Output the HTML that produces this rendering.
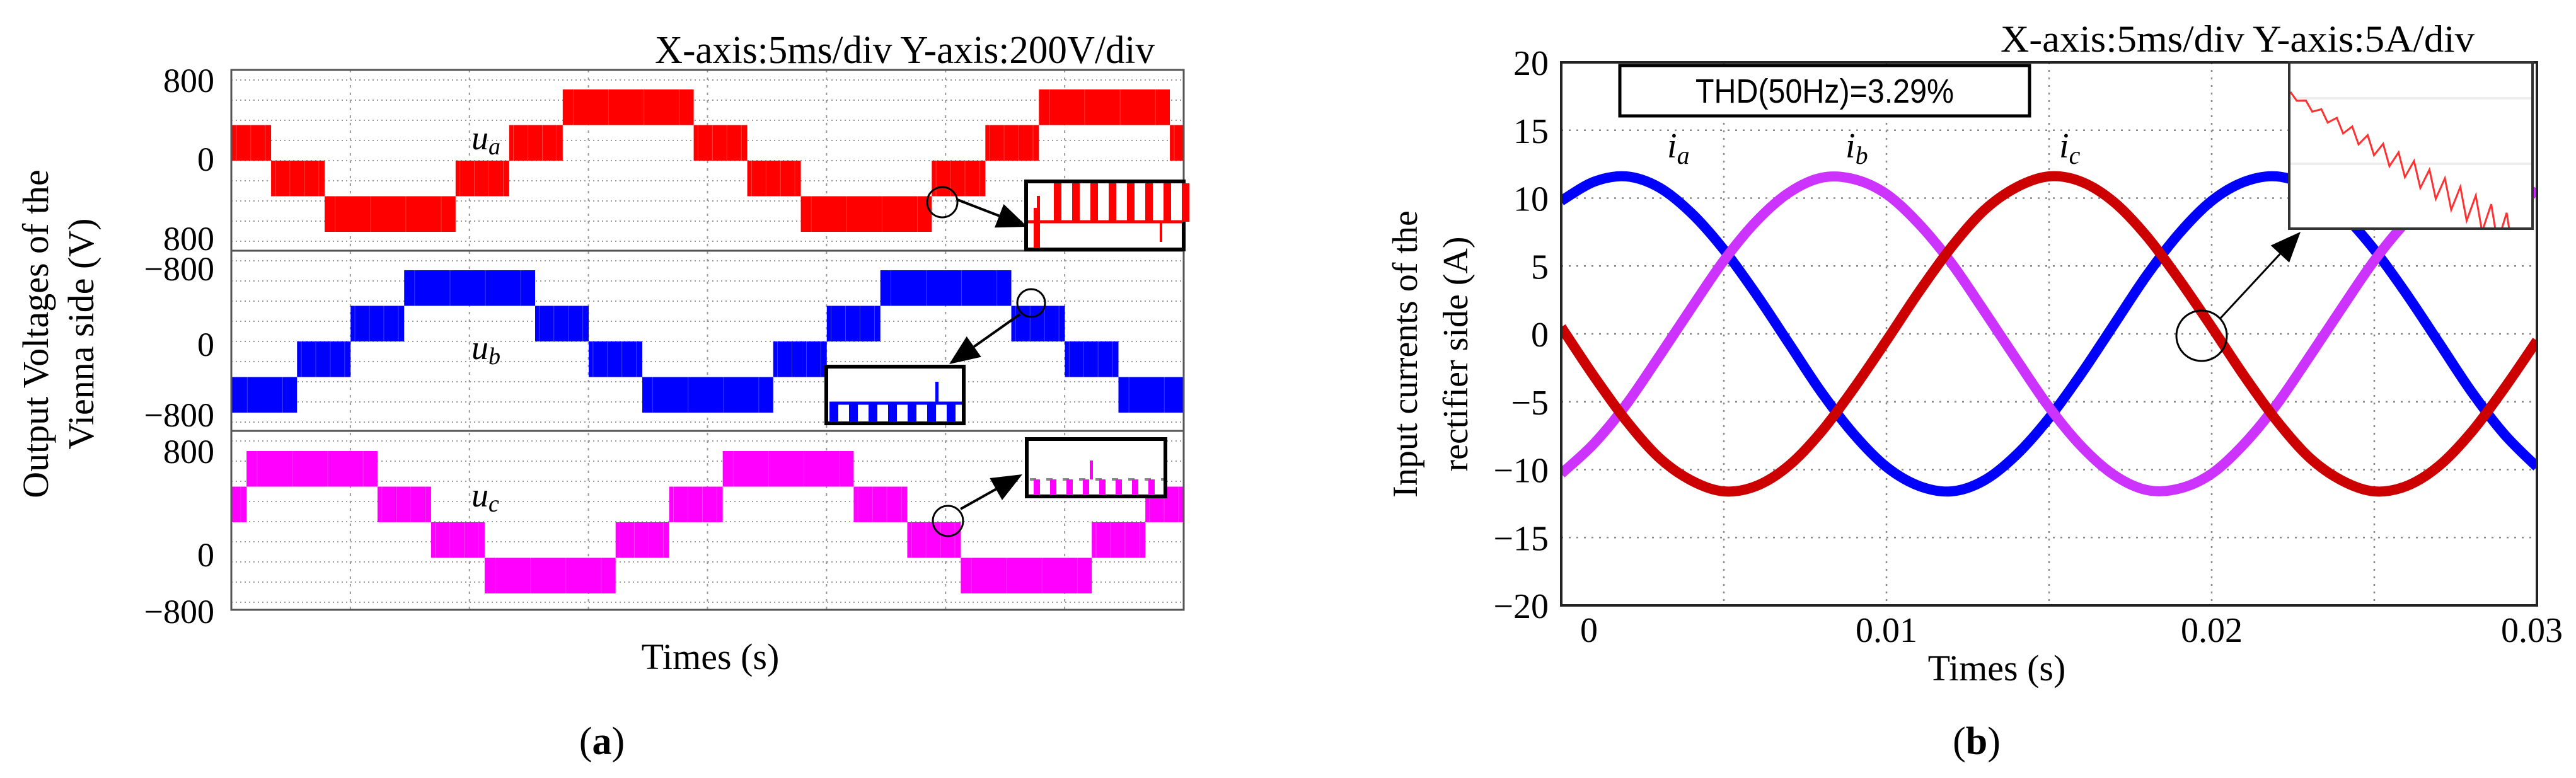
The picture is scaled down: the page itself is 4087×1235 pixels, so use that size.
<!DOCTYPE html>
<html><head><meta charset="utf-8"><style>
html,body{margin:0;padding:0;background:#fff;}
svg{display:block;}
text{font-family:"Liberation Serif",serif;fill:#000;}
</style></head><body>
<svg id="fig" width="4087" height="1235" viewBox="0 0 4087 1235" xmlns="http://www.w3.org/2000/svg">
<g id="pa"></g>
<g id="pb"></g>
</svg>
<script>
// ---------- Panel (a) data ----------
const stepBandLow = [-2, -1, 0, 1, 0, -1];          // lower level of PWM band in each segment
const stepDurMs   = [5.5, 2.25, 2.25, 5.5, 2.25, 2.25];
const phaseNames  = ["u_a", "u_b", "u_c"];
const phaseStartMs = [3.92, -2.74, 10.64];          // start of [-2,-1] band
const phaseColors = ["#ff0000", "#0000ff", "#ff00ff"];
const aTickTop = ["800", "−800", "800"];
const aTickMid = ["0", "0", "0"];
const aTickBot = ["800", "−800", "−800"];
// ---------- Panel (b) data ----------
const bTimeMs = [0,1,2,3,4,5,6,7,8,9,10,11,12,13,14,15,16,17,18,19,20,21,22,23,24,25,26,27,28,29,30];
const ia = [9.8,11.2,11.6,10.8,8.9,6.2,2.9,-0.7,-4.3,-7.4,-9.8,-11.2,-11.6,-10.8,-8.9,-6.2,-2.9,0.7,4.3,7.4,9.8,11.2,11.6,10.8,8.9,6.2,2.9,-0.7,-4.3,-7.4,-9.8];
const ib = [-10.3,-8.1,-5.2,-1.7,1.9,5.4,8.3,10.4,11.5,11.4,10.3,8.1,5.2,1.7,-1.9,-5.4,-8.3,-10.4,-11.5,-11.4,-10.3,-8.1,-5.2,-1.7,1.9,5.4,8.3,10.4,11.5,11.4,10.3];
const ic = [0.5,-3.1,-6.4,-9.1,-10.8,-11.6,-11.2,-9.7,-7.2,-4.0,-0.5,3.1,6.4,9.1,10.8,11.6,11.2,9.7,7.2,4.0,0.5,-3.1,-6.4,-9.1,-10.8,-11.6,-11.2,-9.7,-7.2,-4.0,-0.5];
const bYTicks = [20,15,10,5,0,-5,-10,-15,-20];
const bYTickLabels = ["20","15","10","5","0","−5","−10","−15","−20"];
const bXTicks = [0,0.01,0.02,0.03];
const bXTickLabels = ["0","0.01","0.02","0.03"];

const NS="http://www.w3.org/2000/svg";
function mk(tag, attrs, parent){const e=document.createElementNS(NS,tag);for(const k in attrs)e.setAttribute(k,attrs[k]);parent.appendChild(e);return e;}

// ================= PANEL A =================
const pa=document.getElementById('pa');
const AL=367, AR=1878, AT=111, AB=968;
const subTop=[111,398,684], subBot=[398,684,968];
const subZero=[255,542,829];
const LV=56.5;
const xA=t=>AL+(t/40)*(AR-AL);
for(let s=0;s<3;s++){
  for(let y=subTop[s]+16;y<subBot[s]-4;y+=32){
    const l=mk('line',{x1:AL,x2:AR,y1:y,y2:y,stroke:'#999','stroke-width':2,'stroke-dasharray':'2 5'},pa);
    
    
  }
}
for(let i=1;i<8;i++){
  const x=xA(i*5);
  const l=mk('line',{x1:x,x2:x,y1:AT,y2:AB,stroke:'#999','stroke-width':2,'stroke-dasharray':'4 8'},pa);
  
  
}
const clipA=mk('clipPath',{id:'clipA'},pa);
mk('rect',{x:AL,y:AT,width:AR-AL,height:AB-AT},clipA);
const period=stepDurMs.reduce((a,b)=>a+b,0);
for(let p=0;p<3;p++){
  const g=mk('g',{'clip-path':'url(#clipA)'},pa);
  
  
  let t=phaseStartMs[p];
  while(t>0)t-=period;
  let k=0;
  while(t<40){
    const d=stepDurMs[k%6], lo=stepBandLow[k%6];
    const x1=xA(t), x2=xA(t+d);
    const yTop=subZero[p]-(lo+1)*LV, yBot=subZero[p]-lo*LV;
    const r=mk('rect',{x:x1,y:yTop,width:x2-x1,height:yBot-yTop,fill:phaseColors[p]},g);
    
    
    for(let j=0;j<4;j++){
      const xx=x1+(x2-x1)*(0.08+j*0.27);
      const w=mk('line',{x1:xx,x2:xx,y1:yTop,y2:yBot,stroke:'#fff','stroke-width':1,opacity:0.25},g);
      
      
    }
    t+=d;k++;
  }
}
const fr=mk('rect',{x:AL,y:AT,width:AR-AL,height:AB-AT,fill:'none',stroke:'#555','stroke-width':3},pa);

for(const y of [398,684]){const l=mk('line',{x1:AL,x2:AR,y1:y,y2:y,stroke:'#555','stroke-width':3},pa);
}
const tickY=[[127,252,378],[426,546,658],[716,880,970]];
for(let s=0;s<3;s++){
  const labs=[aTickTop[s],aTickMid[s],aTickBot[s]];
  for(let j=0;j<3;j++){
    const tx=mk('text',{x:340,y:tickY[s][j]+19,'text-anchor':'end','font-size':54},pa);
    tx.textContent=labs[j];
    
    
  }
}
const labY=[223,556,790];
for(let p=0;p<3;p++){
  const tx=mk('text',{x:748,y:labY[p]+14,'font-size':54,'font-style':'italic'},pa);
  tx.textContent=phaseNames[p][0];
  const ts=mk('tspan',{'font-size':38,dy:8},tx);ts.textContent=phaseNames[p][2];
  
  
}
function box(x,y,w,h,name){const r=mk('rect',{x,y,width:w,height:h,fill:'#fff',stroke:'#000','stroke-width':6},pa);return r;}
function circ(cx,cy,r,par){const c=mk('circle',{cx,cy,r,fill:'none',stroke:'#000','stroke-width':3},par);}
function arrow(x1,y1,x2,y2,par,sw){
  const ang=Math.atan2(y2-y1,x2-x1),L=48,W=20;
  const bx=x2-L*Math.cos(ang),by=y2-L*Math.sin(ang);
  const l=mk('line',{x1,y1,x2:bx,y2:by,stroke:'#000','stroke-width':sw||4},par);
  
  const px=-Math.sin(ang),py=Math.cos(ang);
  const pg=mk('polygon',{points:`${x2},${y2} ${bx+px*W},${by+py*W} ${bx-px*W},${by-py*W}`,fill:'#000'},par);
  
}
box(1628,288,250,108,'inset-ua');
{const g=pa;
 mk('line',{x1:1631,x2:1876,y1:352,y2:352,stroke:'#f00','stroke-width':5},g);
 for(let i=0;i<8;i++){mk('rect',{x:1672+i*29,y:291,width:12,height:61,fill:'#f00'},g);}
 mk('rect',{x:1640,y:330,width:10,height:64,fill:'#f00'},g);
 mk('rect',{x:1645,y:311,width:5,height:41,fill:'#f00'},g);
 mk('rect',{x:1840,y:352,width:4,height:32,fill:'#f00'},g);}
circ(1495,321,24,pa);
arrow(1519,317,1630,360,pa);
box(1311,582,218,90,'inset-ub');
{const g=pa;
 mk('line',{x1:1316,x2:1526,y1:640,y2:640,stroke:'#00f','stroke-width':5},g);
 for(let i=0;i<7;i++){mk('rect',{x:1316+i*31,y:640,width:14,height:30,fill:'#00f'},g);}
 mk('rect',{x:1484,y:606,width:5,height:34,fill:'#00f'},g);}
circ(1636,481,22,pa);
arrow(1618,499,1506,578,pa);
box(1629,697,220,91,'inset-uc');
{const g=pa;
 mk('line',{x1:1634,x2:1846,y1:761,y2:761,stroke:'#888','stroke-width':4,'stroke-dasharray':'10 16'},g);
 for(let i=0;i<8;i++){mk('rect',{x:1640+i*26,y:761,width:10,height:25,fill:'#f0f'},g);}
 mk('rect',{x:1729,y:731,width:5,height:30,fill:'#f0f'},g);}
circ(1504,827,24,pa);
arrow(1524,808,1622,753,pa);
{const t=mk('text',{x:1039,y:100,'font-size':62,textLength:793,lengthAdjust:'spacingAndGlyphs'},pa);t.textContent='X-axis:5ms/div Y-axis:200V/div';
}
{const t=mk('text',{x:0,y:0,'font-size':58,'text-anchor':'middle',transform:'translate(76,530) rotate(-90)'},pa);t.textContent='Output Voltages of the';

const t2=mk('text',{x:0,y:0,'font-size':58,'text-anchor':'middle',transform:'translate(148,530) rotate(-90)'},pa);t2.textContent='Vienna side (V)';
}
{const t=mk('text',{x:1127,y:1062,'font-size':58,'text-anchor':'middle'},pa);t.textContent='Times (s)';
}
{const t=mk('text',{x:955,y:1197,'font-size':62,'text-anchor':'middle'},pa);t.textContent='(';
const s=mk('tspan',{'font-weight':'bold'},t);s.textContent='a';const s2=mk('tspan',{},t);s2.textContent=')';
}

// ================= PANEL B =================
const pb=document.getElementById('pb');
const BL=2477, BR=4025, BT=99, BB=961;
const xB=t=>BL+(t/0.03)*(BR-BL);
const yB=v=>BT+(20-v)/40*(BB-BT);
for(const v of bYTicks){ if(v===20||v===-20)continue;
  const l=mk('line',{x1:BL,x2:BR,y1:yB(v),y2:yB(v),stroke:'#888','stroke-width':2.5,'stroke-dasharray':'3 9'},pb);
  }
for(let i=1;i<6;i++){const x=xB(i*0.005);
  const l=mk('line',{x1:x,x2:x,y1:BT,y2:BB,stroke:'#888','stroke-width':2.5,'stroke-dasharray':'3 9'},pb);
  }
const clipB=mk('clipPath',{id:'clipB'},pb);
mk('rect',{x:BL,y:BT,width:BR-BL,height:BB-BT},clipB);
function smoothPath(vals){
  const pts=bTimeMs.map((t,i)=>[xB(t/1000),yB(vals[i])]);
  let d=`M${pts[0][0]},${pts[0][1]}`;
  for(let i=0;i<pts.length-1;i++){
    const p0=pts[Math.max(0,i-1)],p1=pts[i],p2=pts[i+1],p3=pts[Math.min(pts.length-1,i+2)];
    const c1=[p1[0]+(p2[0]-p0[0])/6,p1[1]+(p2[1]-p0[1])/6];
    const c2=[p2[0]-(p3[0]-p1[0])/6,p2[1]-(p3[1]-p1[1])/6];
    d+=` C${c1[0]},${c1[1]} ${c2[0]},${c2[1]} ${p2[0]},${p2[1]}`;
  }
  return d;
}
const series=[["ia",ia,"#0000ff"],["ib",ib,"#cc33ff"],["ic",ic,"#cc0000"]];
for(const [nm,vals,col] of series){
  const p=mk('path',{d:smoothPath(vals),fill:'none',stroke:col,'stroke-width':16,'stroke-linejoin':'round','clip-path':'url(#clipB)'},pb);
  
  
}
{const r=mk('rect',{x:BL,y:BT,width:BR-BL,height:BB-BT,fill:'none',stroke:'#222','stroke-width':4},pb);
}
bYTicks.forEach((v,i)=>{const t=mk('text',{x:2457,y:yB(v)+20,'text-anchor':'end','font-size':56},pb);t.textContent=bYTickLabels[i];
});
bXTicks.forEach((v,i)=>{let x=xB(v);if(i===0)x+=44;if(i===bXTicks.length-1)x-=8;
const t=mk('text',{x:x,y:1019,'text-anchor':'middle','font-size':56},pb);t.textContent=bXTickLabels[i];
});
{const r=mk('rect',{x:2570,y:104,width:650,height:80,fill:'#fff',stroke:'#000','stroke-width':5},pb);

const t=mk('text',{x:2895,y:163,'text-anchor':'middle','font-size':54,textLength:410,lengthAdjust:'spacingAndGlyphs',style:'font-family:"Liberation Sans",sans-serif'},pb);t.textContent='THD(50Hz)=3.29%';
}
[["i","a",2657],["i","b",2940],["i","c",3279]].forEach(([m,s,x])=>{
  const t=mk('text',{x:x-12,y:250,'font-size':56,'font-style':'italic'},pb);t.textContent=m;
  const ts=mk('tspan',{'font-size':40,dy:10},t);ts.textContent=s;
  });
{const r=mk('rect',{x:3632,y:99,width:386,height:264,fill:'#fff',stroke:'#333','stroke-width':4},pb);

for(const y of [156,260]){mk('line',{x1:3634,x2:4016,y1:y,y2:y,stroke:'#eee','stroke-width':4},pb);}
let d='';const n=14;
for(let i=0;i<=n;i++){
  const x0=3634+i*24.5; const base=150+i*15.5; const amp=4+i*1.8;
  d+=(i===0?'M':'L')+x0+','+(base-amp)+' L'+(x0+10)+','+(base+amp+6)+' ';
}
const ci=mk('clipPath',{id:'clipI'},pb);mk('rect',{x:3634,y:101,width:382,height:260},ci);
const p=mk('path',{d:d,fill:'none',stroke:'#ff3030','stroke-width':3,'clip-path':'url(#clipI)'},pb);
}
{const c=mk('circle',{cx:3493,cy:533,r:40,fill:'none',stroke:'#000','stroke-width':3},pb);
}
arrow(3523,505,3650,368,pb,3);
{const t=mk('text',{x:3174,y:82,'font-size':60,textLength:752,lengthAdjust:'spacingAndGlyphs'},pb);t.textContent='X-axis:5ms/div Y-axis:5A/div';
}
{const t=mk('text',{x:0,y:0,'font-size':56,'text-anchor':'middle',transform:'translate(2248,562) rotate(-90)'},pb);t.textContent='Input currents of the';

const t2=mk('text',{x:0,y:0,'font-size':56,'text-anchor':'middle',transform:'translate(2328,562) rotate(-90)'},pb);t2.textContent='rectifier side (A)';
}
{const t=mk('text',{x:3168,y:1080,'font-size':58,'text-anchor':'middle'},pb);t.textContent='Times (s)';
}
{const t=mk('text',{x:3136,y:1197,'font-size':62,'text-anchor':'middle'},pb);t.textContent='(';
const s=mk('tspan',{'font-weight':'bold'},t);s.textContent='b';const s2=mk('tspan',{},t);s2.textContent=')';
}
</script>
</body></html>
